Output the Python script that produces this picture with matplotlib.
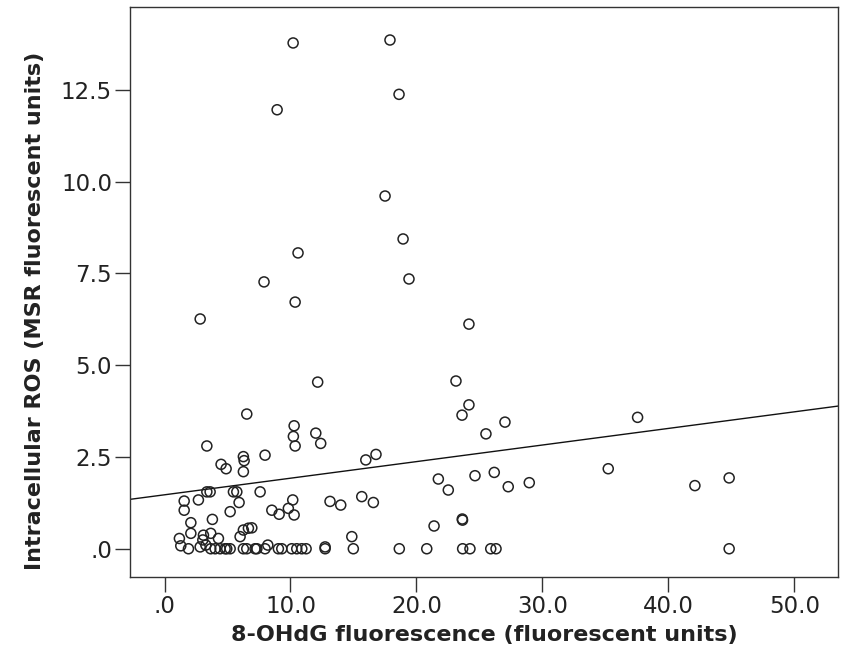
import numpy as np
import matplotlib
matplotlib.use("Agg")
import matplotlib.pyplot as plt

# 8-OHdG fluorescence (x) vs intracellular ROS (y)
ohdg = [
    10.21, 17.90, 18.62, 8.94, 17.51, 18.94, 10.60, 19.41, 7.90, 10.37,
    2.83, 24.17, 12.16, 23.14, 23.62, 24.17, 25.52, 27.03, 37.56, 35.23,
    42.11, 44.83, 44.83, 6.53, 3.36, 6.26, 6.32, 7.98, 4.49, 4.89,
    6.26, 10.29, 10.23, 10.37, 12.01, 12.40, 15.98, 16.79, 21.74, 22.53,
    24.65, 26.18, 27.29, 28.96, 21.40, 23.64, 23.66, 20.82, 23.67, 24.25,
    25.90, 26.32, 1.56, 1.56, 2.69, 3.36, 3.62, 3.80, 2.09, 2.09,
    1.18, 1.29, 1.90, 3.09, 3.04, 3.67, 4.28, 2.83, 3.28, 3.67,
    4.02, 4.41, 4.81, 5.47, 5.74, 5.92, 5.21, 7.59, 8.52, 9.10,
    6.93, 6.66, 6.26, 6.00, 4.94, 5.21, 6.26, 6.53, 7.19, 7.33,
    7.98, 8.20, 9.04, 10.18, 9.83, 10.29, 13.14, 13.99, 9.31, 10.10,
    10.50, 10.90, 11.24, 12.75, 12.75, 14.87, 14.99, 15.66, 16.58, 18.64,
]
ros = [
    13.78, 13.86, 12.38, 11.96, 9.61, 8.44, 8.06, 7.35, 7.27, 6.72,
    6.26, 6.12, 4.54, 4.57, 3.64, 3.92, 3.13, 3.45, 3.58, 2.18,
    1.72, 1.93, 0.00, 3.67, 2.80, 2.51, 2.40, 2.55, 2.30, 2.18,
    2.10, 3.35, 3.06, 2.80, 3.15, 2.87, 2.42, 2.57, 1.90, 1.60,
    1.99, 2.08, 1.69, 1.80, 0.62, 0.81, 0.78, 0.00, 0.00, 0.00,
    0.00, 0.00, 1.30, 1.05, 1.33, 1.55, 1.55, 0.80, 0.71, 0.42,
    0.28, 0.08, 0.00, 0.37, 0.24, 0.42, 0.28, 0.05, 0.10, 0.00,
    0.00, 0.00, 0.00, 1.55, 1.55, 1.26, 1.01, 1.55, 1.05, 0.94,
    0.57, 0.56, 0.51, 0.33, 0.00, 0.00, 0.00, 0.00, 0.00, 0.00,
    0.00, 0.10, 0.00, 1.33, 1.10, 0.92, 1.29, 1.19, 0.00, 0.00,
    0.00, 0.00, 0.00, 0.00, 0.05, 0.33, 0.00, 1.42, 1.26, 0.00,
]

# fit line as drawn
intercept = 1.47
slope = 0.0452

x_ticks = [0, 10, 20, 30, 40, 50]
x_labels = [".0", "10.0", "20.0", "30.0", "40.0", "50.0"]
y_ticks = [0, 2.5, 5.0, 7.5, 10.0, 12.5]
y_labels = [".0", "2.5", "5.0", "7.5", "10.0", "12.5"]

fig = plt.figure(figsize=(8.41, 6.68), dpi=100)
ax = fig.add_axes([0.1546, 0.1362, 0.8418, 0.8528])

ax.scatter(ohdg, ros, s=52, facecolors="none", edgecolors="#222222", linewidths=1.1, zorder=3)

xlim = (-2.74, 53.47)
xs = np.array(xlim)
ax.plot(xs, intercept + slope * xs, color="#111111", linewidth=1.0, zorder=2)

ax.set_xlim(*xlim)
ax.set_ylim(-0.77, 14.75)
ax.set_xticks(x_ticks)
ax.set_xticklabels(x_labels)
ax.set_yticks(y_ticks)
ax.set_yticklabels(y_labels)

for sp in ax.spines.values():
    sp.set_color("#333333")
    sp.set_linewidth(1.0)
ax.tick_params(direction="out", length=11, width=1.0, color="#333333",
               labelsize=16.5, labelcolor="#222222", pad=2)

ax.set_xlabel("8-OHdG fluorescence (fluorescent units)", fontsize=16,
              fontweight="bold", color="#222222", labelpad=5)
ax.set_ylabel("Intracellular ROS (MSR fluorescent units)", fontsize=16,
              fontweight="bold", color="#222222")
ax.yaxis.set_label_coords(-0.12, 0.467)

fig.savefig("out.png", dpi=100)
